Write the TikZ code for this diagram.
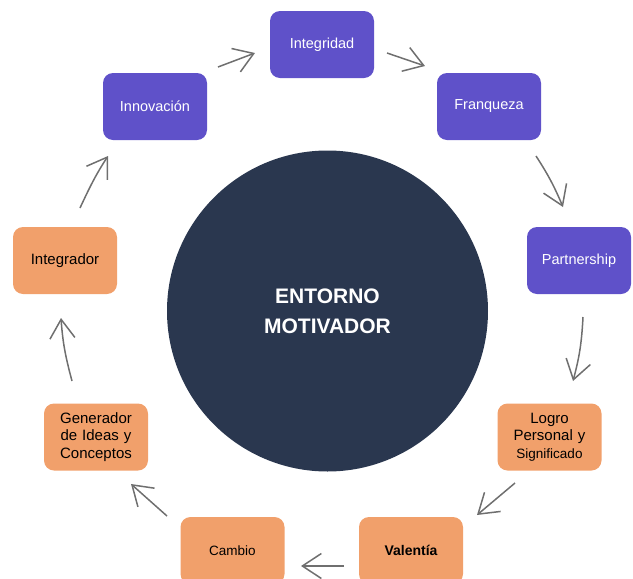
\documentclass[tikz,border=0pt]{standalone}
\usepackage{fontspec}
\setmainfont{Liberation Sans}
\usetikzlibrary{arrows.meta,calc}

\definecolor{boxpurple}{HTML}{5F51C9}
\definecolor{boxorange}{HTML}{F1A06B}
\definecolor{hubnavy}{HTML}{2A374F}
\definecolor{arrowgray}{HTML}{6F6F6F}

\begin{document}
% y runs downwards; out/in angles are page angles (counter-clockwise from east)
\begin{tikzpicture}[x=1pt,y=-1pt,
  card/.style={rounded corners=10pt, minimum width=104pt, minimum height=67pt,
    text width=100pt, align=center, inner sep=2pt},
  value/.style={card, fill=boxpurple, text=white, font=\fontsize{14.5}{17}\selectfont},
  trait/.style={card, fill=boxorange, text=black, font=\fontsize{15}{17.5}\selectfont},
  flow/.style={draw=arrowgray, line width=1.5pt, -{Straight Barb[length=19pt,width=25pt]}}]

\useasboundingbox (0,0) rectangle (633,579);

% central circle
\node[circle, fill=hubnavy, minimum size=321pt, inner sep=0pt, text=white, align=center,
      font=\bfseries\fontsize{21}{30}\selectfont] (hub) at (327.5,311) {ENTORNO\\MOTIVADOR};

% values (purple)
\node[value] (integ)   at (322,44.5)  {Integridad};
\node[value] (franq)   at (489,106.5) {Franqueza};
\node[value] (partner) at (579,260.5) {Partnership};
\node[value] (innov)   at (155,106.5) {Innovación};

% traits (orange)
\node[trait] (logro)  at (549.5,437)  {Logro\\Personal y\\{\fontsize{13.5}{17}\selectfont Significado}};
\node[trait, font=\bfseries\fontsize{14}{17}\selectfont] (valen) at (411,550.5) {Valentía};
\node[trait, font=\fontsize{13.5}{17}\selectfont] (cambio) at (232.5,550.5) {Cambio};
\node[trait] (gener)  at (96,437)     {Generador\\de Ideas y\\Conceptos};
\node[trait] (integr) at (65,260.5)   {Integrador};

% cycle of arrows
\draw[flow] ($(innov)+(63,-39.5)$) -- ($(integ)+(-67,8.5)$);
\draw[flow] ($(integ)+(65,8.5)$) -- ($(franq)+(-64,-40.5)$);
\draw[flow] ($(franq)+(47,49.5)$) to[out=-57,in=113] ($(partner)+(-16,-53.5)$);
\draw[flow] ($(partner)+(4,56.5)$) to[out=-93,in=75] ($(logro)+(23.5,-56)$);
\draw[flow] ($(logro)+(-34.5,46)$) -- ($(valen)+(66,-35.5)$);
\draw[flow] ($(valen)+(-67,15.5)$) -- ($(cambio)+(68.5,15.5)$);
\draw[flow] ($(cambio)+(-65.5,-34.5)$) -- ($(gener)+(35,47)$);
\draw[flow] ($(gener)+(-24,-56)$) to[out=105,in=-86] ($(integr)+(-4,57.5)$);
\draw[flow] ($(integr)+(15,-52.5)$) to[out=65,in=237] ($(innov)+(-47,49.5)$);
\end{tikzpicture}
\end{document}
